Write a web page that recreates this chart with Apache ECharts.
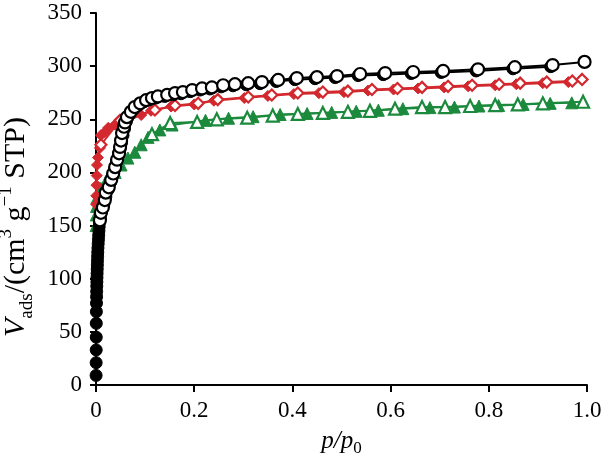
<!DOCTYPE html>
<html>
<head>
<meta charset="utf-8">
<script src="https://cdn.jsdelivr.net/npm/echarts@6/dist/echarts.min.js"></script>
<style>html,body{margin:0;padding:0;background:#fff;}#c{width:614px;height:458px;}</style>
</head>
<body>
<div id="c"></div>
<script>
// ---- data (x = p/p0, y = V_ads) ----
var xTickLabels = ['0', '0.2', '0.4', '0.6', '0.8', '1.0'];
var yTickLabels = ['0', '50', '100', '150', '200', '250', '300', '350'];

var blackAds = [[0.0002,9],[0.0003,21],[0.0004,33],[0.0005,45],[0.0006,58],[0.0008,69],[0.001,77],[0.0012,83],[0.0014,88],[0.0016,93],[0.0018,97],[0.002,101],[0.0022,105],[0.0025,109],[0.0028,113],[0.003,117],[0.0033,121],[0.0036,125],[0.004,129],[0.0045,133],[0.005,137],[0.0055,141],[0.006,145],[0.0065,149],[0.007,153],[0.009,158],[0.012,164],[0.016,170],[0.02,177],[0.025,184],[0.03,191],[0.034,197],[0.038,203],[0.042,210],[0.046,216],[0.049,222],[0.052,228],[0.055,235],[0.058,241],[0.062,248],[0.068,254],[0.076,259],[0.086,263],[0.098,266.5],[0.11,268.5],[0.122,270],[0.14,271.5],[0.157,273],[0.173,274],[0.192,276],[0.212,277.5],[0.232,278.5],[0.255,280.5],[0.279,281.5],[0.306,282.5],[0.334,283.5],[0.367,285.5],[0.405,287.3],[0.446,288.2],[0.487,289.2],[0.534,291.1],[0.585,292],[0.642,293],[0.703,294],[0.774,295.5],[0.849,297.5],[0.926,299.5]];
var blackDes = [[0.008,155],[0.010,162],[0.014,167],[0.018,174],[0.020,181],[0.026,186],[0.031,193],[0.035,199],[0.039,205],[0.043,212],[0.047,218],[0.049,224],[0.051,230],[0.053,237],[0.057,243],[0.059,247],[0.063,252],[0.071,257],[0.079,261.5],[0.090,265],[0.102,268],[0.114,270],[0.126,271.5],[0.145,273],[0.161,274.7],[0.177,275.6],[0.196,277.5],[0.216,279],[0.236,280],[0.259,282],[0.283,283],[0.31,284],[0.338,285],[0.371,287],[0.409,288.8],[0.45,289.7],[0.491,290.7],[0.538,292.6],[0.589,293.5],[0.646,294.5],[0.707,295.5],[0.778,297],[0.853,299],[0.93,301],[0.995,304]];

var redAds = [[0.0003,170],[0.0006,178],[0.001,188],[0.0015,197],[0.002,207],[0.004,214],[0.008,223],[0.01,235],[0.018,238],[0.025,242],[0.039,245],[0.065,249],[0.092,254],[0.112,258],[0.153,262],[0.2,264],[0.24,267.5],[0.302,270],[0.35,272],[0.403,273.7],[0.454,274.6],[0.505,275.5],[0.554,277],[0.606,278],[0.656,279],[0.709,280],[0.758,281],[0.813,282],[0.856,283],[0.91,284],[0.962,285]];
var redDes = [[0.01,226],[0.049,249],[0.12,258.7],[0.161,263],[0.208,265],[0.248,268.5],[0.31,271],[0.358,272.8],[0.411,274.7],[0.462,275.6],[0.513,276.5],[0.562,278],[0.614,279],[0.664,280],[0.717,281],[0.766,282],[0.821,283],[0.864,284],[0.918,285],[0.97,286],[0.99,287.5]];

var greenAds = [[0.0001,150],[0.0005,160],[0.001,168],[0.002,176],[0.01,185],[0.024,195],[0.039,200],[0.051,207],[0.065,213.5],[0.079,219],[0.092,226],[0.106,233],[0.13,240],[0.155,244.6],[0.223,249],[0.27,251],[0.32,252.5],[0.375,254.5],[0.43,255.5],[0.48,256.5],[0.53,257.5],[0.575,258.5],[0.625,260],[0.68,261],[0.73,261.5],[0.78,262.5],[0.82,263],[0.87,264],[0.925,265],[0.969,265.5]];
var greenDes = [[0.114,236],[0.151,246.5],[0.206,247.5],[0.246,250],[0.308,251.5],[0.36,253.5],[0.411,255],[0.462,256],[0.513,257],[0.558,258],[0.609,260],[0.664,261.5],[0.711,261.5],[0.762,262.5],[0.813,263.4],[0.859,264],[0.91,265],[0.992,266.5]];

var BLACK = '#000000', RED = '#d2282e', GREEN = '#1c8a3c';
var FONT = 'Liberation Serif';

function mk(name, data, color, symbol, size, filled, z) {
  return {
    name: name, type: 'line', data: data, symbol: symbol, symbolSize: size,
    showSymbol: true, z: z, animation: false,
    lineStyle: { color: color, width: 2 },
    itemStyle: filled ? { color: color, borderColor: color, borderWidth: 1 }
                      : { color: '#ffffff', borderColor: color, borderWidth: 2.2 }
  };
}

var chart = echarts.init(document.getElementById('c'), null, { renderer: 'canvas' });
chart.setOption({
  backgroundColor: '#ffffff',
  animation: false,
  grid: { left: 96, right: 27, top: 13, bottom: 73, containLabel: false, outerBoundsMode: 'none' },
  xAxis: {
    type: 'value', min: 0, max: 1, interval: 0.2,
    splitLine: { show: false },
    axisLine: { lineStyle: { color: '#000', width: 2 } },
    axisTick: { length: 7, lineStyle: { color: '#000', width: 2 } },
    axisLabel: {
      color: '#000', fontFamily: FONT, fontSize: 23, margin: 14,
      formatter: function (v) { return xTickLabels[Math.round(v / 0.2)]; }
    },
    name: '{i|p}{i|/}{i|p}{sub|0}', nameLocation: 'middle', nameGap: 40,
    nameTextStyle: {
      rich: {
        i: { fontFamily: FONT, fontStyle: 'italic', fontSize: 25, color: '#000', lineHeight: 32, verticalAlign: 'middle' },
        sub: { fontFamily: FONT, fontSize: 17, color: '#000', lineHeight: 18, verticalAlign: 'bottom' }
      }
    }
  },
  yAxis: {
    type: 'value', min: 0, max: 350, interval: 50,
    splitLine: { show: false },
    axisLine: { lineStyle: { color: '#000', width: 2 } },
    axisTick: { length: 6, lineStyle: { color: '#000', width: 2 } },
    axisLabel: {
      color: '#000', fontFamily: FONT, fontSize: 23, margin: 14,
      formatter: function (v) { return yTickLabels[Math.round(v / 50)]; }
    },
    name: '{i|V}{sub|ads}{n|/(cm}{sup|3}{n| g}{sup|\u22121}{n| STP)}',
    nameLocation: 'middle', nameGap: 42, nameRotate: 90,
    nameTextStyle: {
      padding: [0, 56, 0, 0],
      rich: {
        i: { fontFamily: FONT, fontStyle: 'italic', fontSize: 30, color: '#000', lineHeight: 40, verticalAlign: 'middle' },
        n: { fontFamily: FONT, fontSize: 30, color: '#000', lineHeight: 40, verticalAlign: 'middle' },
        sub: { fontFamily: FONT, fontSize: 19, color: '#000', lineHeight: 21, verticalAlign: 'bottom' },
        sup: { fontFamily: FONT, fontSize: 19, color: '#000', lineHeight: 26, verticalAlign: 'top' }
      }
    }
  },
  series: [
    mk('green ads', greenAds, GREEN, 'triangle', 12, true, 2),
    mk('green des', greenDes, GREEN, 'triangle', 12, false, 3),
    mk('red ads', redAds, RED, 'diamond', 11, true, 4),
    mk('red des', redDes, RED, 'diamond', 11, false, 5),
    mk('black ads', blackAds, BLACK, 'circle', 12, true, 6),
    mk('black des', blackDes, BLACK, 'circle', 12, false, 7)
  ]
});
</script>
</body>
</html>
